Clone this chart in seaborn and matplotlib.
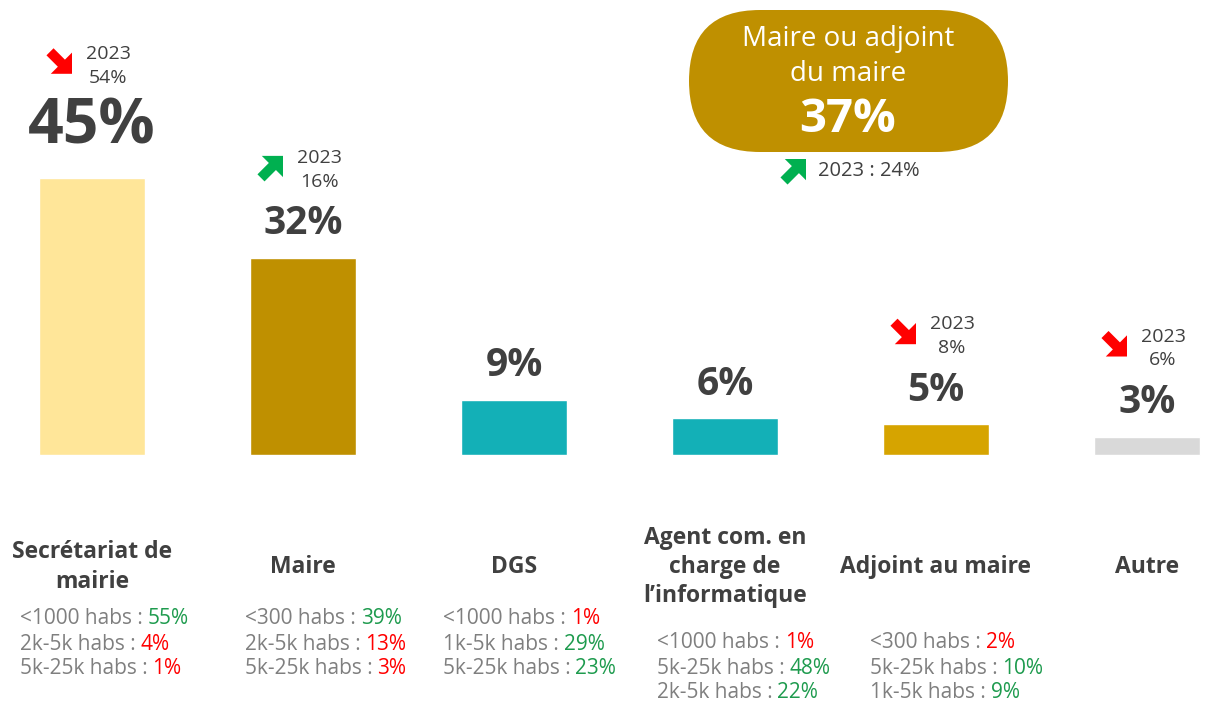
import numpy as np
import pandas as pd
import matplotlib.pyplot as plt
import matplotlib.patches as mpatches
from matplotlib.transforms import ScaledTranslation
import seaborn as sns

# Données du graphique
categories = ['Secrétariat de\nmairie', 'Maire', 'DGS',
              'Agent com. en\ncharge de\nl’informatique', 'Adjoint au maire', 'Autre']
values = [45, 32, 9, 6, 5, 3]
bar_colors = ['#FFE699', '#BF9000', '#13B0B7', '#13B0B7', '#D6A400', '#D9D9D9']
prev_2023 = [54, 16, None, None, 8, 6]
trend = ['down', 'up', None, None, 'down', 'down']

sub_labels = [
    ['<1000 habs :', '2k-5k habs :', '5k-25k habs :'],
    ['<300 habs :', '2k-5k habs :', '5k-25k habs :'],
    ['<1000 habs :', '1k-5k habs :', '5k-25k habs :'],
    ['<1000 habs :', '5k-25k habs :', '2k-5k habs :'],
    ['<300 habs :', '5k-25k habs :', '1k-5k habs :'],
    [],
]
sub_values = [[55, 4, 1], [39, 13, 3], [1, 29, 23], [1, 48, 22], [2, 10, 9], []]
sub_up = [[True, False, False], [True, False, False], [False, True, True],
          [False, True, True], [False, True, True], []]

group_label = 'Maire ou adjoint\ndu maire'
group_value = 37
group_prev = 24

DARK = '#404040'
GREY = '#7F7F7F'
GREEN_TXT = '#1E9B4E'
RED = '#FF0000'
GREEN_ARROW = '#00B050'
GOLD = '#BF9000'

sns.set_style('white')
plt.rcParams['font.family'] = ['Open Sans', 'DejaVu Sans']

df = pd.DataFrame({'cat': categories, 'val': values})

fig = plt.figure(figsize=(12.09, 7.05), dpi=100)
ax = fig.add_axes([0, 0, 1, 1])
sns.barplot(data=df, x='cat', y='val', hue='cat', palette=bar_colors,
            width=0.5, saturation=1, legend=False, ax=ax)
ax.set_xlim(-92 / 211, (1209 - 92) / 211)
ax.set_ylim(-250 / 6.16, 455 / 6.16)
ax.axis('off')

PX = 1 / 100  # pixels -> pouces


def at(i, v):
    # coordonnées en pouces relatives au point (i, v) des données
    return fig.dpi_scale_trans + ScaledTranslation(i, v, ax.transData)


def make_arrow(cx, cy, direction, color, trans):
    d = 11
    if direction == 'down':
        x0, y0, dx, dy = cx - d, cy + d, 2 * d, -2 * d
    else:
        x0, y0, dx, dy = cx - d, cy - d, 2 * d, 2 * d
    return mpatches.FancyArrow(x0 * PX, y0 * PX, dx * PX, dy * PX, width=10 * PX,
                               head_width=30 * PX, head_length=15 * PX,
                               length_includes_head=True, color=color,
                               transform=trans, lw=0)


for i, (v, cat) in enumerate(zip(values, categories)):
    t = at(i, v)
    big = i == 0
    ax.text(0, (51 if big else 34) * PX, f'{v}%', transform=t, ha='center', va='center',
            fontsize=45 if big else 28, fontweight='bold', color=DARK)
    if prev_2023[i] is not None:
        by = 112 if big else 88
        ax.text(16 * PX, by * PX, f'2023\n{prev_2023[i]}%', transform=t, ha='center',
                va='center', fontsize=14, color=DARK, linespacing=1.4)
        ax.add_patch(make_arrow(-31, by + 3, trend[i],
                                RED if trend[i] == 'down' else GREEN_ARROW, t))

    # libellés sous les barres
    t0 = at(i, 0)
    ax.text(0, -112 * PX, cat, transform=t0, ha='center', va='center',
            fontsize=16.5, fontweight='bold', color=DARK, linespacing=1.3)
    left = [-72, -58, -71, -68, -66, 0][i]
    top = -164 if i < 3 else -188
    for k, (lab, sv, up) in enumerate(zip(sub_labels[i], sub_values[i], sub_up[i])):
        g = ax.text(left * PX, (top - 25 * k) * PX, lab, transform=t0, ha='left',
                    va='center', fontsize=15, color=GREY)
        ax.annotate(f'{sv}%', xy=(1, 0.5), xycoords=g, xytext=(3.5, 0),
                    textcoords='offset points', ha='left', va='center',
                    fontsize=15, color=GREEN_TXT if up else RED)

# bulle "Maire ou adjoint du maire"
fd = fig.dpi_scale_trans
bubble = mpatches.FancyBboxPatch((689 * PX, (705 - 152) * PX), 319 * PX, 142 * PX,
                                 boxstyle=f'round,pad=0,rounding_size={71 * PX}',
                                 transform=fd, color=GOLD, lw=0)
fig.patches.append(bubble)
fig.text(848 * PX, (705 - 56.5) * PX, group_label, transform=fd, ha='center', va='center',
         fontsize=20, color='white', linespacing=1.3)
fig.text(848 * PX, (705 - 119) * PX, f'{group_value}%', transform=fd, ha='center',
         va='center', fontsize=34, fontweight='bold', color='white')
fig.text(818 * PX, (705 - 171) * PX, f'2023 : {group_prev}%', transform=fd, ha='left',
         va='center', fontsize=14.5, color=DARK)
fig.patches.append(make_arrow(795, 705 - 170, 'up', GREEN_ARROW, fd))

fig.savefig('out.png', dpi=100)
